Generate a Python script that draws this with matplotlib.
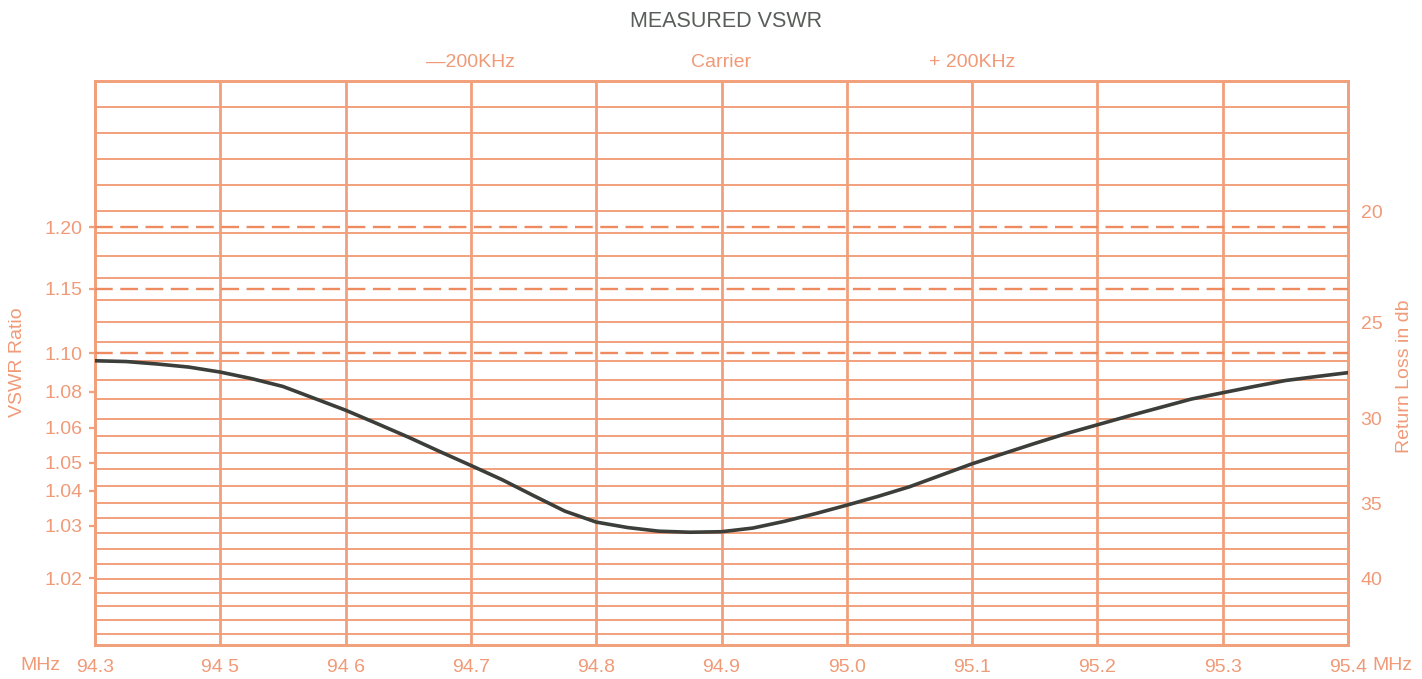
import numpy as np
import matplotlib
matplotlib.use("Agg")
import matplotlib.pyplot as plt

plt.rcParams['font.family'] = ['Liberation Sans', 'DejaVu Sans']

# ---------------- data ----------------
freq_labels = ['94.3', '94 5', '94 6', '94.7', '94.8', '94.9',
               '95.0', '95.1', '95.2', '95.3', '95.4']
vswr_ticks = [1.02, 1.03, 1.04, 1.05, 1.06, 1.08, 1.10, 1.15, 1.20]
rl_ticks = [20, 25, 30, 35, 40]
rl_grid = list(range(16, 45))
ref_vswr_lines = [1.10, 1.15, 1.20]
top_labels = ['\u2014200KHz', 'Carrier', '+ 200KHz']
top_label_div = [3, 5, 7]

# curve sampled every quarter of a frequency division (0 = 94.3, 10 = 95.4)
curve_div = np.linspace(0, 10, 41)
curve_vswr = [1.0961, 1.0957, 1.0944, 1.0928, 1.0902, 1.0868, 1.0827, 1.0763,
              1.0697, 1.0623, 1.0573, 1.0532, 1.0490, 1.0439, 1.0386, 1.0342,
              1.0311, 1.0297, 1.0290, 1.0288, 1.0289, 1.0296, 1.0313, 1.0335,
              1.0359, 1.0384, 1.0414, 1.0455, 1.0496, 1.0526, 1.0555, 1.0583,
              1.0616, 1.0665, 1.0712, 1.0759, 1.0794, 1.0827, 1.0858, 1.0879,
              1.0899]

# ---------------- chart-paper scales ----------------
V_ANCH = [1.00725, 1.02, 1.03, 1.04, 1.05, 1.06, 1.08, 1.10, 1.15, 1.20, 1.3194]
V_FRAC = [0.0, 0.1182, 0.2109, 0.2734, 0.3231, 0.3851, 0.4489, 0.5169, 0.6314, 0.7402, 1.0]
RL_ANCH = [15, 20, 25, 30, 35, 40, 44, 44.8]
RL_FRAC = [1.0, 0.7686, 0.5719, 0.4010, 0.2511, 0.1175, 0.0195, 0.0]


def v_fwd(v):
    return np.interp(v, V_ANCH, V_FRAC)


def v_inv(u):
    return np.interp(u, V_FRAC, V_ANCH)


def rl_fwd(r):
    return np.interp(r, RL_ANCH, RL_FRAC)


def rl_inv(u):
    return np.interp(u, RL_FRAC[::-1], RL_ANCH[::-1])


GRID = '#F2A07C'
TEXT = '#F09A78'
DASH = '#EE8A60'
CURVE = '#3B3E39'

fig = plt.figure(figsize=(14.22, 6.79), dpi=100)
fig.patch.set_facecolor('white')
ax = fig.add_axes([0.0668, 0.0501, 0.8812, 0.8311])
ax2 = ax.twinx()
ax.set_zorder(2)
ax2.set_zorder(1)
ax.patch.set_visible(False)

ax.set_yscale('function', functions=(v_fwd, v_inv))
ax2.set_yscale('function', functions=(rl_fwd, rl_inv))

# grid on the return-loss axis (chart paper)
for r in rl_grid:
    ax2.axhline(r, color=GRID, lw=1.4, zorder=1)
for i in range(1, len(freq_labels) - 1):
    ax2.axvline(i, color=GRID, lw=2.0, zorder=1)

# dashed reference lines and curve
for v in ref_vswr_lines:
    ax.axhline(v, color=DASH, lw=1.7, dashes=(7.5, 3.2), zorder=3)
ax.plot(curve_div, curve_vswr, color=CURVE, lw=2.6, zorder=4,
        solid_capstyle='round', solid_joinstyle='round')

ax.set_xlim(0, len(freq_labels) - 1)
ax.set_ylim(V_ANCH[0], V_ANCH[-1])
# the return-loss scale decreases upward; give limits in increasing order
ax2.set_ylim(RL_ANCH[0], RL_ANCH[-1])

for a in (ax, ax2):
    for s in a.spines.values():
        s.set_color(GRID)
        s.set_linewidth(2.0)

ax.set_yticks(vswr_ticks)
ax.set_yticklabels([f'{v:.2f}' for v in vswr_ticks])
ax.tick_params(axis='y', direction='out', length=4, width=1.6, color=GRID,
               labelsize=14, labelcolor=TEXT, pad=5)
ax.minorticks_off()
ax2.minorticks_off()
ax2.set_yticks(rl_ticks)
ax2.set_yticklabels([str(r) for r in rl_ticks])
ax2.tick_params(axis='y', length=0, labelsize=14, labelcolor=TEXT, pad=9)

ax.set_xticks(range(len(freq_labels)))
ax.set_xticklabels(freq_labels)
ax.tick_params(axis='x', length=0, labelsize=14, labelcolor=TEXT, pad=10)

for lbl, d in zip(top_labels, top_label_div):
    ax.text(d, 1.033, lbl, transform=ax.get_xaxis_transform(),
            ha='center', va='center', fontsize=14, color=TEXT)

fig.text(0.5105, 0.969, 'MEASURED VSWR', ha='center', va='center',
         fontsize=15.5, color='#5A5E5A')
fig.text(0.012, 0.467, 'VSWR Ratio', rotation=90, ha='center', va='center',
         fontsize=14, color=TEXT)
fig.text(0.988, 0.4455, 'Return Loss in db', rotation=90, ha='center', va='center',
         fontsize=14, color=TEXT)
fig.text(40 / 1422, 1 - 666 / 679, 'MHz', ha='center', va='center',
         fontsize=14, color=TEXT)
fig.text(1392 / 1422, 1 - 666 / 679, 'MHz', ha='center', va='center',
         fontsize=14, color=TEXT)

fig.savefig('out.png', dpi=100, facecolor='white')
